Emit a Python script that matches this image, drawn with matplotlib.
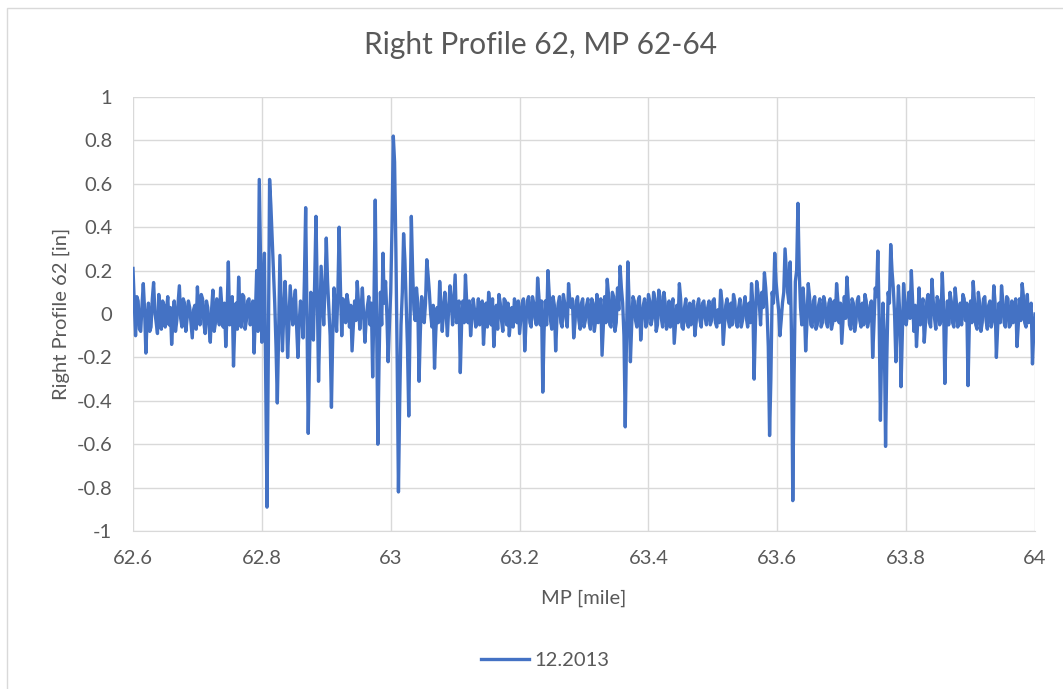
import numpy as np
import matplotlib
matplotlib.use("Agg")
from matplotlib import pyplot as plt
from matplotlib.patches import Rectangle
from matplotlib.ticker import FuncFormatter

# Right profile (inches) sampled every 0.002 mile from MP 62.6 to 64.0
mp_start = 62.6
mp_step = 0.002
profile = [
    # 62.6 - 62.7
    0.21, 0.05, -0.10, 0.08, 0.06, -0.07, -0.08, 0.04, 0.14, 0.02,
    -0.18, -0.02, 0.05, -0.08, -0.06, 0.07, 0.145, 0.01, -0.04, -0.09,
    0.09, 0.02, -0.07, 0.06, 0.04, -0.06, 0.02, 0.08, -0.05, 0.03,
    -0.14, -0.03, 0.06, -0.08, -0.03, 0.05, 0.13, -0.02, -0.06, 0.07,
    0.05, -0.08, -0.02, 0.06, 0.03, -0.04, -0.11, 0.02, 0.04, -0.07,
    # 62.7 - 62.8
    0.125, 0.0, -0.05, 0.09, 0.07, -0.04, -0.09, 0.06, 0.03, -0.06,
    -0.13, 0.02, 0.11, -0.08, -0.04, 0.07, 0.02, -0.05, 0.12, 0.03,
    -0.06, 0.05, -0.15, 0.0, 0.24, -0.05, 0.02, 0.08, -0.24, -0.05,
    0.05, -0.07, 0.17, 0.02, -0.06, 0.09, 0.08, -0.07, -0.03, 0.06,
    0.07, -0.05, 0.02, 0.06, -0.18, 0.0, 0.20, -0.08, 0.62, 0.25,
    # 62.8 - 62.9
    -0.13, 0.1, 0.28, -0.3, -0.89, -0.2, 0.62, 0.5, 0.35, 0.2,
    0.05, -0.15, -0.41, -0.1, 0.27, 0.05, -0.17, 0.0, 0.15, 0.02,
    -0.20, -0.05, 0.13, 0.04, -0.05, 0.06, 0.11, -0.06, -0.20, -0.04,
    0.06, 0.0, -0.11, 0.15, 0.49, 0.0, -0.55, -0.2, 0.10, 0.0,
    -0.12, 0.15, 0.45, 0.1, -0.31, -0.05, 0.22, 0.08, -0.05, 0.12,
    # 62.9 - 63.0
    0.35, 0.15, 0.02, -0.1, -0.43, -0.1, 0.12, 0.03, -0.08, 0.1,
    0.40, 0.12, -0.10, 0.07, 0.05, -0.04, 0.09, 0.05, -0.06, 0.04,
    -0.17, -0.05, 0.06, -0.03, 0.15, 0.05, -0.07, 0.02, 0.12, 0.0,
    -0.13, -0.02, 0.04, 0.08, -0.05, 0.05, -0.29, 0.05, 0.525, 0.0,
    -0.60, -0.2, 0.10, -0.05, 0.28, 0.05, 0.15, 0.0, -0.22, -0.05,
    # 63.0 - 63.1
    0.10, 0.4, 0.82, 0.7, 0.30, -0.2, -0.82, -0.4, -0.05, 0.1,
    0.37, 0.25, 0.05, -0.15, -0.47, -0.05, 0.45, 0.2, 0.02, -0.03,
    0.12, 0.05, -0.31, -0.08, 0.08, 0.03, -0.04, 0.05, 0.25, 0.18,
    0.10, 0.0, -0.06, 0.04, -0.25, -0.08, 0.03, -0.04, 0.15, 0.04,
    -0.08, 0.02, 0.10, 0.0, -0.10, 0.03, 0.13, 0.06, -0.05, 0.07,
    # 63.1 - 63.2
    0.18, -0.04, 0.02, 0.06, -0.27, -0.05, 0.06, -0.04, 0.18, 0.05,
    -0.04, 0.06, -0.10, -0.02, 0.07, 0.02, -0.06, -0.02, 0.07, -0.05,
    0.02, 0.06, -0.14, -0.03, 0.05, -0.06, 0.10, 0.04, -0.05, 0.07,
    -0.15, -0.04, 0.04, -0.07, 0.09, 0.05, -0.03, -0.08, 0.07, 0.06,
    -0.05, 0.05, -0.10, -0.03, 0.03, -0.06, 0.07, 0.04, -0.04, 0.06,
    # 63.2 - 63.3
    -0.09, -0.02, 0.05, 0.07, -0.17, -0.04, 0.06, 0.08, -0.04, -0.06,
    0.08, 0.05, -0.02, -0.05, 0.166, 0.08, -0.05, 0.06, -0.36, -0.08,
    0.06, -0.05, 0.20, 0.09, -0.03, -0.07, 0.08, 0.04, -0.17, -0.02,
    0.05, 0.08, -0.04, -0.06, 0.09, 0.05, -0.02, -0.06, 0.14, 0.06,
    0.03, 0.07, -0.11, -0.04, 0.06, 0.08, -0.03, -0.07, 0.05, 0.07,
    # 63.3 - 63.4
    -0.06, -0.03, 0.04, 0.07, -0.04, -0.07, 0.07, 0.05, -0.08, -0.03,
    0.09, -0.04, 0.02, 0.07, -0.19, -0.05, 0.08, -0.04, 0.16, 0.09,
    -0.05, -0.06, 0.10, 0.08, -0.08, -0.04, 0.12, 0.02, 0.22, 0.12,
    0.05, -0.1, -0.52, -0.1, 0.24, 0.05, -0.22, -0.05, 0.08, 0.06,
    -0.03, -0.06, 0.06, 0.08, -0.12, -0.03, 0.04, 0.07, -0.06, -0.04,
    # 63.4 - 63.5
    0.09, 0.06, -0.05, -0.02, 0.10, 0.07, -0.08, -0.05, 0.11, 0.08,
    -0.02, -0.06, 0.10, 0.05, -0.07, -0.04, 0.06, -0.06, 0.02, 0.07,
    -0.135, -0.05, 0.04, -0.04, 0.14, 0.07, -0.06, -0.07, 0.03, 0.07,
    -0.04, -0.06, 0.05, -0.05, 0.01, 0.06, -0.10, -0.04, 0.04, 0.07,
    -0.03, -0.06, 0.05, 0.06, -0.02, -0.05, 0.03, 0.06, -0.05, -0.03,
    # 63.5 - 63.6
    0.06, 0.07, -0.04, -0.06, 0.02, -0.04, 0.11, 0.06, -0.14, -0.05,
    0.04, 0.07, -0.03, -0.06, 0.05, -0.05, 0.09, 0.06, -0.04, -0.06,
    0.03, 0.07, -0.06, -0.03, 0.04, 0.08, -0.02, -0.06, 0.05, -0.04,
    0.14, 0.05, -0.30, -0.05, 0.15, 0.1, 0.05, -0.05, 0.10, 0.03,
    0.19, 0.12, 0.02, -0.15, -0.56, -0.3, 0.10, 0.05, 0.28, 0.15,
    # 63.6 - 63.7
    0.08, 0.02, -0.10, -0.03, 0.05, 0.1, 0.30, 0.2, 0.10, 0.05,
    0.24, -0.1, -0.86, -0.3, 0.15, 0.2, 0.51, 0.2, 0.03, -0.05,
    0.12, 0.03, -0.17, -0.04, 0.14, 0.08, -0.05, -0.06, 0.06, 0.08,
    -0.07, -0.05, 0.04, 0.07, -0.06, -0.04, 0.08, 0.05, -0.04, -0.06,
    0.05, 0.07, -0.07, -0.04, 0.06, -0.03, 0.14, 0.06, -0.04, 0.05,
    # 63.7 - 63.8
    -0.135, -0.03, 0.08, -0.02, 0.17, 0.07, -0.05, -0.07, 0.07, 0.05,
    -0.08, -0.04, 0.06, 0.08, -0.03, -0.06, 0.05, -0.05, 0.09, 0.06,
    -0.06, -0.03, 0.04, 0.06, -0.20, -0.05, 0.12, 0.08, 0.29, 0.0,
    -0.49, -0.15, 0.05, -0.1, -0.61, -0.2, 0.10, 0.05, 0.32, 0.2,
    0.12, 0.0, -0.22, -0.05, 0.13, 0.0, -0.335, -0.1, 0.14, 0.05,
    # 63.8 - 63.9
    -0.05, 0.0, 0.10, -0.02, 0.20, 0.06, -0.08, 0.04, -0.15, -0.03,
    0.12, -0.05, 0.02, 0.07, -0.13, -0.04, 0.06, 0.09, -0.04, -0.06,
    0.16, 0.06, -0.02, -0.07, 0.08, 0.06, -0.05, -0.03, 0.19, 0.04,
    -0.32, -0.06, 0.06, -0.05, 0.10, 0.06, -0.04, -0.06, 0.12, 0.05,
    -0.06, -0.04, 0.05, -0.05, 0.09, 0.07, -0.03, 0.05, -0.33, -0.05,
    # 63.9 - 64.0
    0.06, -0.04, 0.15, 0.06, -0.05, -0.07, 0.10, 0.05, -0.08, -0.04,
    0.07, 0.08, -0.03, -0.07, 0.04, 0.06, -0.06, -0.03, 0.13, 0.05,
    -0.20, -0.06, 0.05, -0.04, 0.13, 0.06, -0.04, -0.06, 0.08, 0.07,
    -0.06, -0.05, 0.06, -0.04, 0.02, 0.07, -0.15, -0.05, 0.07, -0.03,
    0.14, 0.08, -0.04, -0.06, 0.09, -0.04, 0.02, 0.05, -0.23, -0.08,
    0.00,
]
mp = mp_start + mp_step * np.arange(len(profile))

x_ticks = [62.6, 62.8, 63.0, 63.2, 63.4, 63.6, 63.8, 64.0]
y_ticks = [-1, -0.8, -0.6, -0.4, -0.2, 0, 0.2, 0.4, 0.6, 0.8, 1]

plt.rcParams['font.family'] = ['Lato', 'DejaVu Sans']
text_grey = '#595959'

fig = plt.figure(figsize=(10.63, 6.89), dpi=100)
ax = fig.add_axes([0.1251, 0.2293, 0.8486, 0.6299])

# chart area frame
fig.patches.append(Rectangle((7 / 1063, -0.1), 1.2, 1 - 8 / 689 + 0.1,
                             transform=fig.transFigure, fill=False,
                             edgecolor='#D9D9D9', linewidth=1.0))

ax.plot(mp, profile, color='#4472C4', linewidth=2.4, label='12.2013')

ax.set_xlim(62.6, 64.0)
ax.set_ylim(-1, 1)
ax.set_xticks(x_ticks)
ax.set_yticks(y_ticks)
ax.xaxis.set_major_formatter(FuncFormatter(lambda v, p: '%g' % round(v, 2)))
ax.yaxis.set_major_formatter(FuncFormatter(lambda v, p: '%g' % round(v, 2)))
ax.grid(True, color='#D9D9D9', linewidth=1.0)
ax.set_axisbelow(True)
for side in ['top', 'right', 'left']:
    ax.spines[side].set_visible(False)
ax.spines['bottom'].set_color('#D9D9D9')
ax.tick_params(length=0, labelsize=14.5, colors=text_grey)
ax.tick_params(axis='x', pad=14)
ax.tick_params(axis='y', pad=15)

fig.text(540 / 1063, 1 - 45 / 689, 'Right Profile 62, MP 62-64', fontsize=21.5,
         color=text_grey, ha='center', va='center')
ax.set_xlabel('MP [mile]', fontsize=14.5, color=text_grey)
ax.set_ylabel('Right Profile 62 [in]', fontsize=14.5, color=text_grey)
ax.xaxis.set_label_coords(0.5, -0.136)
ax.yaxis.set_label_coords(-0.0698, 0.5)

fig.legend(loc='center', bbox_to_anchor=(545 / 1063, 1 - 660 / 689), frameon=False,
           fontsize=14.5, labelcolor=text_grey, handlelength=2.4, handletextpad=0.25)

plt.savefig('out.png', dpi=100)
